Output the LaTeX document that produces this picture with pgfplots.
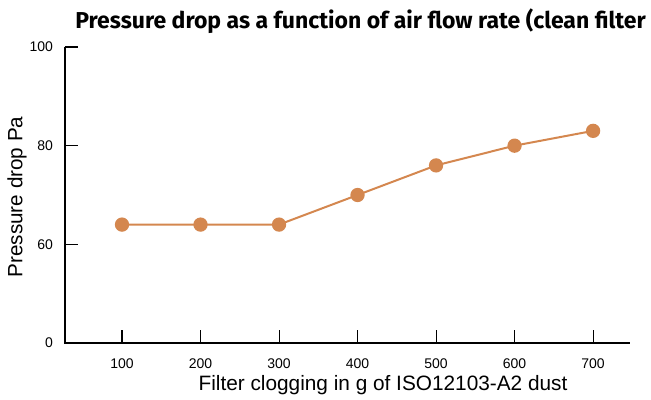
\documentclass[border=0pt]{standalone}
\usepackage{pgfplots}
\pgfplotsset{compat=1.18}
\usepackage{fontspec}
\setmainfont{Liberation Sans}
\newfontfamily\titlefont{Fira Sans}
\definecolor{lc}{HTML}{D4874F}
\begin{document}
\begin{tikzpicture}
\begin{axis}[
  at={(0pt,0pt)}, anchor=south west,
  scale only axis,
  width=423.75pt, height=222pt,
  xmin=27.4, xmax=747,
  ymin=40, ymax=100,
  axis line style={draw=none},
  xtick pos=left, ytick pos=left,
  xtick={100,200,300,400,500,600,700},
  ytick={40,60,80,100},
  yticklabels={0,60,80,100},
  tick style={black, line width=0.8pt},
  tick align=inside,
  major tick length=10pt,
  ticklabel style={font=\fontsize{10.5}{12}\selectfont},
  /pgf/number format/assume math mode=true,
  xticklabel style={yshift=-8pt},
  yticklabel style={xshift=-5.5pt},
  clip=false,
]
\draw[black, line width=1pt] (rel axis cs:0,1) -- (rel axis cs:0,0) -- (rel axis cs:1,0);
\addplot[color=lc, line width=1.5pt, mark=*, mark size=4.6pt, mark options={fill=lc, draw=lc}]
  coordinates {(100,64) (200,64) (300,64) (400,70) (500,76) (600,80) (700,83)};
\end{axis}
\node[anchor=base west, inner sep=0pt, font=\titlefont\bfseries\fontsize{17.25}{20}\selectfont] at (7.5pt,236pt) {Pressure drop as a function of air flow rate (clean filter};
\node[rotate=90, font=\fontsize{15.5}{18}\selectfont] at (-36pt,109.5pt) {Pressure drop Pa};
\node[font=\fontsize{15.6}{18}\selectfont] at (238.5pt,-31.5pt) {Filter clogging in g of ISO12103-A2 dust};
\pgfresetboundingbox
\useasboundingbox (-48.75pt,-42.75pt) rectangle (439.5pt,257.25pt);
\end{tikzpicture}
\end{document}
